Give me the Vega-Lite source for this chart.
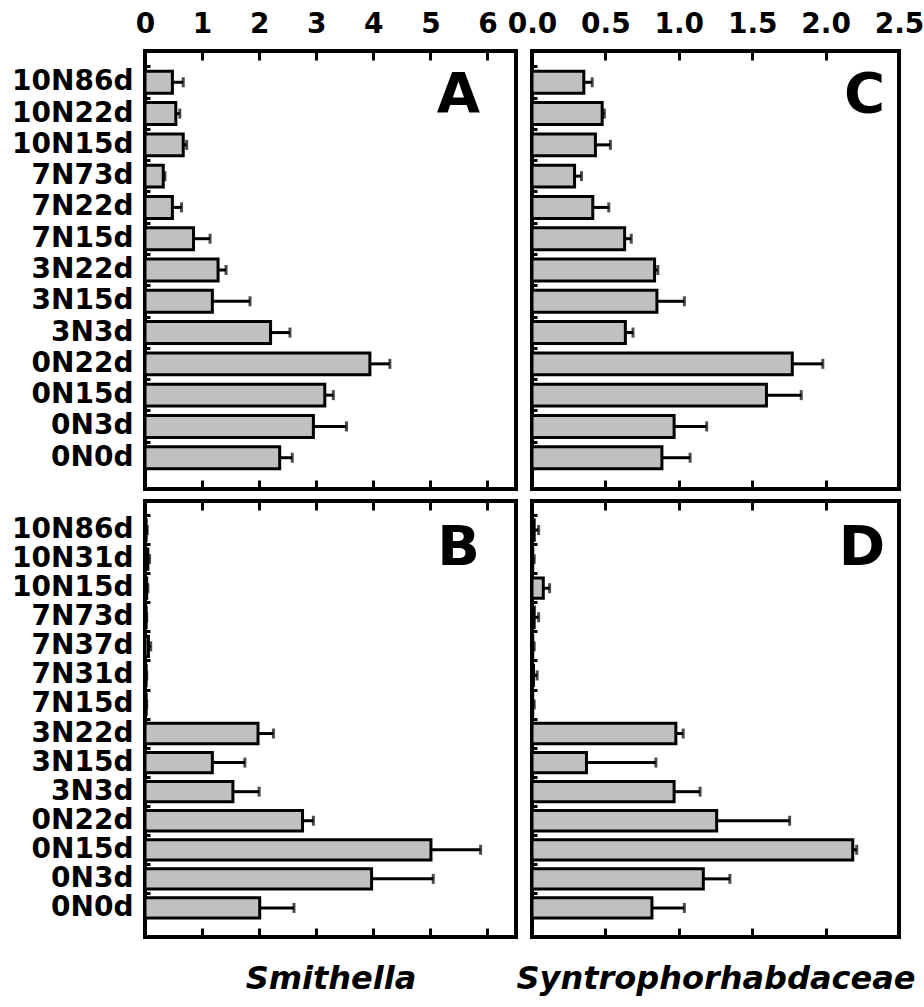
{
  "$schema": "https://vega.github.io/schema/vega-lite/v6.json",
  "padding": {"left": 9, "top": 8, "right": 2, "bottom": 2},
  "background": "white",
  "config": {
    "font": "DejaVu Sans",
    "view": {"stroke": "black", "strokeWidth": 4},
    "axis": {"labelFont": "DejaVu Sans", "labelFontWeight": "bold", "labelFontSize": 28, "labelColor": "black", "tickColor": "black", "tickWidth": 3, "domain": false, "grid": false, "labelFlush": false, "titleColor": "black"}
  },
  "data": {"values": [
    {"p": "A", "cat": "10N86d", "v": 0.48, "hi": 0.67},
    {"p": "A", "cat": "10N22d", "v": 0.54, "hi": 0.61},
    {"p": "A", "cat": "10N15d", "v": 0.67, "hi": 0.73},
    {"p": "A", "cat": "7N73d", "v": 0.32, "hi": 0.35},
    {"p": "A", "cat": "7N22d", "v": 0.48, "hi": 0.64},
    {"p": "A", "cat": "7N15d", "v": 0.85, "hi": 1.14},
    {"p": "A", "cat": "3N22d", "v": 1.28, "hi": 1.42},
    {"p": "A", "cat": "3N15d", "v": 1.18, "hi": 1.84},
    {"p": "A", "cat": "3N3d", "v": 2.2, "hi": 2.54},
    {"p": "A", "cat": "0N22d", "v": 3.94, "hi": 4.29},
    {"p": "A", "cat": "0N15d", "v": 3.15, "hi": 3.3},
    {"p": "A", "cat": "0N3d", "v": 2.95, "hi": 3.53},
    {"p": "A", "cat": "0N0d", "v": 2.36, "hi": 2.58},
    {"p": "C", "cat": "10N86d", "v": 0.353, "hi": 0.41},
    {"p": "C", "cat": "10N22d", "v": 0.478, "hi": 0.493},
    {"p": "C", "cat": "10N15d", "v": 0.432, "hi": 0.534},
    {"p": "C", "cat": "7N73d", "v": 0.29, "hi": 0.337},
    {"p": "C", "cat": "7N22d", "v": 0.414, "hi": 0.523},
    {"p": "C", "cat": "7N15d", "v": 0.631, "hi": 0.676},
    {"p": "C", "cat": "3N22d", "v": 0.835, "hi": 0.857},
    {"p": "C", "cat": "3N15d", "v": 0.851, "hi": 1.038},
    {"p": "C", "cat": "3N3d", "v": 0.636, "hi": 0.688},
    {"p": "C", "cat": "0N22d", "v": 1.773, "hi": 1.981},
    {"p": "C", "cat": "0N15d", "v": 1.597, "hi": 1.834},
    {"p": "C", "cat": "0N3d", "v": 0.968, "hi": 1.19},
    {"p": "C", "cat": "0N0d", "v": 0.885, "hi": 1.077},
    {"p": "B", "cat": "10N86d", "v": 0.02, "hi": 0.04},
    {"p": "B", "cat": "10N31d", "v": 0.05, "hi": 0.08},
    {"p": "B", "cat": "10N15d", "v": 0.03, "hi": 0.05},
    {"p": "B", "cat": "7N73d", "v": 0.02, "hi": 0.03},
    {"p": "B", "cat": "7N37d", "v": 0.06, "hi": 0.1},
    {"p": "B", "cat": "7N31d", "v": 0.02, "hi": 0.03},
    {"p": "B", "cat": "7N15d", "v": 0.02, "hi": 0.03},
    {"p": "B", "cat": "3N22d", "v": 1.98, "hi": 2.25},
    {"p": "B", "cat": "3N15d", "v": 1.18, "hi": 1.75},
    {"p": "B", "cat": "3N3d", "v": 1.54, "hi": 2.0},
    {"p": "B", "cat": "0N22d", "v": 2.76, "hi": 2.95},
    {"p": "B", "cat": "0N15d", "v": 5.01, "hi": 5.88},
    {"p": "B", "cat": "0N3d", "v": 3.97, "hi": 5.05},
    {"p": "B", "cat": "0N0d", "v": 2.01, "hi": 2.61},
    {"p": "D", "cat": "10N86d", "v": 0.015, "hi": 0.045},
    {"p": "D", "cat": "10N31d", "v": 0.005, "hi": 0.015},
    {"p": "D", "cat": "10N15d", "v": 0.077, "hi": 0.12},
    {"p": "D", "cat": "7N73d", "v": 0.015, "hi": 0.045},
    {"p": "D", "cat": "7N37d", "v": 0.005, "hi": 0.015},
    {"p": "D", "cat": "7N31d", "v": 0.01, "hi": 0.035},
    {"p": "D", "cat": "7N15d", "v": 0.005, "hi": 0.015},
    {"p": "D", "cat": "3N22d", "v": 0.98, "hi": 1.03},
    {"p": "D", "cat": "3N15d", "v": 0.371, "hi": 0.844},
    {"p": "D", "cat": "3N3d", "v": 0.968, "hi": 1.145},
    {"p": "D", "cat": "0N22d", "v": 1.258, "hi": 1.755},
    {"p": "D", "cat": "0N15d", "v": 2.185, "hi": 2.212},
    {"p": "D", "cat": "0N3d", "v": 1.167, "hi": 1.348},
    {"p": "D", "cat": "0N0d", "v": 0.817, "hi": 1.038}
  ]},
  "vconcat": [
    {
      "spacing": 16,
      "bounds": "flush",
      "hconcat": [
        {
          "width": 371, "height": 438,
          "transform": [{"filter": "datum.p == 'A'"}],
          "encoding": {"y": {"field": "cat", "type": "nominal", "scale": {"domain": ["10N86d","10N22d","10N15d","7N73d","7N22d","7N15d","3N22d","3N15d","3N3d","0N22d","0N15d","0N3d","0N0d"], "paddingInner": 0.3, "paddingOuter": 0.65}, "axis": {"title": null, "tickSize": -5, "bandPosition": -0.21, "labelPadding": 17}}},
          "layer": [
            {"mark": {"type": "bar", "fill": "#c0c0c0", "stroke": "black", "strokeWidth": 3},
             "encoding": {"x": {"field": "v", "type": "quantitative", "scale": {"domain": [0, 6.5], "nice": false}, "axis": {"orient": "bottom", "labels": false, "title": null, "values": [1,2,3,4,5,6], "tickSize": -9}}}},
            {"mark": {"type": "rule", "stroke": "black", "strokeWidth": 3},
             "encoding": {"x": {"field": "v", "type": "quantitative", "axis": {"orient": "top", "title": null, "values": [0,1,2,3,4,5,6], "tickSize": -9, "labelPadding": 22}}, "x2": {"field": "hi"}}},
            {"mark": {"type": "tick", "color": "black", "thickness": 3, "size": 10},
             "encoding": {"x": {"field": "hi", "type": "quantitative", "axis": null}}},
            {"transform": [{"filter": "datum.cat == '10N86d'"}],
             "mark": {"type": "text", "text": "A", "align": "right", "baseline": "middle", "font": "DejaVu Sans", "fontWeight": "bold", "fontSize": 56, "color": "black"},
             "encoding": {"x": {"datum": 5.87, "type": "quantitative", "axis": null},
                          "y": {"field": "cat", "type": "nominal", "bandPosition": 1.08, "scale": {"domain": ["10N86d","10N22d","10N15d","7N73d","7N22d","7N15d","3N22d","3N15d","3N3d","0N22d","0N15d","0N3d","0N0d"], "paddingInner": 0.3, "paddingOuter": 0.65}, "axis": {"title": null, "tickSize": -5, "bandPosition": -0.21, "labelPadding": 17}}}}
          ],
          "resolve": {"axis": {"x": "independent"}}
        },
        {
          "width": 367, "height": 438,
          "transform": [{"filter": "datum.p == 'C'"}],
          "encoding": {"y": {"field": "cat", "type": "nominal", "scale": {"domain": ["10N86d","10N22d","10N15d","7N73d","7N22d","7N15d","3N22d","3N15d","3N3d","0N22d","0N15d","0N3d","0N0d"], "paddingInner": 0.3, "paddingOuter": 0.65}, "axis": {"title": null, "labels": false, "tickSize": -5, "bandPosition": -0.21}}},
          "layer": [
            {"mark": {"type": "bar", "fill": "#c0c0c0", "stroke": "black", "strokeWidth": 3},
             "encoding": {"x": {"field": "v", "type": "quantitative", "scale": {"domain": [0, 2.5], "nice": false}, "axis": {"orient": "bottom", "labels": false, "title": null, "values": [0.5,1,1.5,2], "tickSize": -9}}}},
            {"mark": {"type": "rule", "stroke": "black", "strokeWidth": 3},
             "encoding": {"x": {"field": "v", "type": "quantitative", "axis": {"orient": "top", "title": null, "values": [0,0.5,1,1.5,2,2.5], "format": ".1f", "tickSize": -9, "labelPadding": 22}}, "x2": {"field": "hi"}}},
            {"mark": {"type": "tick", "color": "black", "thickness": 3, "size": 10},
             "encoding": {"x": {"field": "hi", "type": "quantitative", "axis": null}}},
            {"transform": [{"filter": "datum.cat == '10N86d'"}],
             "mark": {"type": "text", "text": "C", "align": "right", "baseline": "middle", "font": "DejaVu Sans", "fontWeight": "bold", "fontSize": 56, "color": "black"},
             "encoding": {"x": {"datum": 2.406, "type": "quantitative", "axis": null},
                          "y": {"field": "cat", "type": "nominal", "bandPosition": 1.08, "scale": {"domain": ["10N86d","10N22d","10N15d","7N73d","7N22d","7N15d","3N22d","3N15d","3N3d","0N22d","0N15d","0N3d","0N0d"], "paddingInner": 0.3, "paddingOuter": 0.65}, "axis": {"title": null, "labels": false, "tickSize": -5, "bandPosition": -0.21}}}}
          ],
          "resolve": {"axis": {"x": "independent"}}
        }
      ]
    },
    {
      "spacing": 16,
      "bounds": "flush",
      "hconcat": [
        {
          "width": 371, "height": 436,
          "transform": [{"filter": "datum.p == 'B'"}],
          "encoding": {"y": {"field": "cat", "type": "nominal", "scale": {"domain": ["10N86d","10N31d","10N15d","7N73d","7N37d","7N31d","7N15d","3N22d","3N15d","3N3d","0N22d","0N15d","0N3d","0N0d"], "paddingInner": 0.3, "paddingOuter": 0.65}, "axis": {"title": null, "tickSize": -5, "bandPosition": -0.21, "labelPadding": 17}}},
          "layer": [
            {"mark": {"type": "bar", "fill": "#c0c0c0", "stroke": "black", "strokeWidth": 3},
             "encoding": {"x": {"field": "v", "type": "quantitative", "scale": {"domain": [0, 6.5], "nice": false}, "axis": {"orient": "bottom", "labels": false, "title": "Smithella", "titleFont": "DejaVu Sans", "titleFontStyle": "italic", "titleFontWeight": "bold", "titleFontSize": 32, "titlePadding": 25, "values": [1,2,3,4,5,6], "tickSize": -9}}}},
            {"mark": {"type": "rule", "stroke": "black", "strokeWidth": 3},
             "encoding": {"x": {"field": "v", "type": "quantitative", "axis": {"orient": "top", "title": null, "labels": false, "values": [1,2,3,4,5,6], "tickSize": -9}}, "x2": {"field": "hi"}}},
            {"mark": {"type": "tick", "color": "black", "thickness": 3, "size": 10},
             "encoding": {"x": {"field": "hi", "type": "quantitative", "axis": null}}},
            {"transform": [{"filter": "datum.cat == '10N86d'"}],
             "mark": {"type": "text", "text": "B", "align": "right", "baseline": "middle", "font": "DejaVu Sans", "fontWeight": "bold", "fontSize": 56, "color": "black"},
             "encoding": {"x": {"datum": 5.87, "type": "quantitative", "axis": null},
                          "y": {"field": "cat", "type": "nominal", "bandPosition": 1.37, "scale": {"domain": ["10N86d","10N31d","10N15d","7N73d","7N37d","7N31d","7N15d","3N22d","3N15d","3N3d","0N22d","0N15d","0N3d","0N0d"], "paddingInner": 0.3, "paddingOuter": 0.65}, "axis": {"title": null, "tickSize": -5, "bandPosition": -0.21, "labelPadding": 17}}}}
          ],
          "resolve": {"axis": {"x": "independent"}}
        },
        {
          "width": 367, "height": 436,
          "transform": [{"filter": "datum.p == 'D'"}],
          "encoding": {"y": {"field": "cat", "type": "nominal", "scale": {"domain": ["10N86d","10N31d","10N15d","7N73d","7N37d","7N31d","7N15d","3N22d","3N15d","3N3d","0N22d","0N15d","0N3d","0N0d"], "paddingInner": 0.3, "paddingOuter": 0.65}, "axis": {"title": null, "labels": false, "tickSize": -5, "bandPosition": -0.21}}},
          "layer": [
            {"mark": {"type": "bar", "fill": "#c0c0c0", "stroke": "black", "strokeWidth": 3},
             "encoding": {"x": {"field": "v", "type": "quantitative", "scale": {"domain": [0, 2.5], "nice": false}, "axis": {"orient": "bottom", "labels": false, "title": "Syntrophorhabdaceae", "titleFont": "DejaVu Sans", "titleFontStyle": "italic", "titleFontWeight": "bold", "titleFontSize": 32, "titlePadding": 25, "values": [0.5,1,1.5,2], "tickSize": -9}}}},
            {"mark": {"type": "rule", "stroke": "black", "strokeWidth": 3},
             "encoding": {"x": {"field": "v", "type": "quantitative", "axis": {"orient": "top", "title": null, "labels": false, "values": [0.5,1,1.5,2], "tickSize": -9}}, "x2": {"field": "hi"}}},
            {"mark": {"type": "tick", "color": "black", "thickness": 3, "size": 10},
             "encoding": {"x": {"field": "hi", "type": "quantitative", "axis": null}}},
            {"transform": [{"filter": "datum.cat == '10N86d'"}],
             "mark": {"type": "text", "text": "D", "align": "right", "baseline": "middle", "font": "DejaVu Sans", "fontWeight": "bold", "fontSize": 56, "color": "black"},
             "encoding": {"x": {"datum": 2.406, "type": "quantitative", "axis": null},
                          "y": {"field": "cat", "type": "nominal", "bandPosition": 1.37, "scale": {"domain": ["10N86d","10N31d","10N15d","7N73d","7N37d","7N31d","7N15d","3N22d","3N15d","3N3d","0N22d","0N15d","0N3d","0N0d"], "paddingInner": 0.3, "paddingOuter": 0.65}, "axis": {"title": null, "labels": false, "tickSize": -5, "bandPosition": -0.21}}}}
          ],
          "resolve": {"axis": {"x": "independent"}}
        }
      ]
    }
  ],
  "spacing": 4
}
